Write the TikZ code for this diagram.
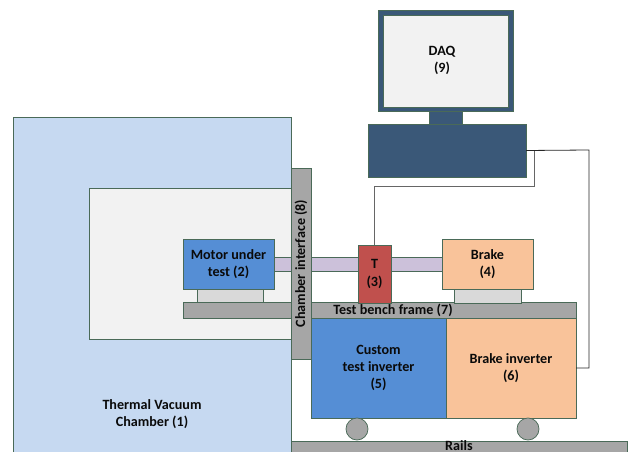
\documentclass[tikz,border=0pt]{standalone}
\usepackage{fontspec}
\setmainfont{Carlito}
\usetikzlibrary{fit}
\definecolor{edge}{HTML}{4A6A58}
\definecolor{chamberc}{HTML}{C6D9F1}
\definecolor{innerc}{HTML}{F2F2F2}
\definecolor{greyc}{HTML}{A6A6A6}
\definecolor{mountc}{HTML}{D9D9D9}
\definecolor{bluec}{HTML}{558ED5}
\definecolor{orangec}{HTML}{F9C39A}
\definecolor{redc}{HTML}{C0504D}
\definecolor{shaftc}{HTML}{CCC1DA}
\definecolor{daqc}{HTML}{3A5878}
\definecolor{txtc}{HTML}{0A0A0A}
\tikzset{
  blk/.style={draw=edge, line width=0.55pt, inner sep=0pt, outer sep=0pt, rectangle},
  lbl/.style={font=\bfseries\fontsize{10.6}{12.8}\selectfont, text=txtc, align=center},
  wire/.style={line width=0.6pt, draw=black!85}
}
\begin{document}
\begin{tikzpicture}[x=0.75pt, y=-0.75pt]
\useasboundingbox (0,0) rectangle (635,452);
\clip (0,0) rectangle (635,452);
% chamber
\node[blk, fill=chamberc, fit={(13,117) (291,470)}] (chamber) {};
\node[lbl] (chambertxt) at (152,414) {Thermal Vacuum\\Chamber (1)};
\node[blk, fill=innerc, fit={(89,188) (291,339)}] (inner) {};
% shaft
\node[blk, fill=shaftc, fit={(274,257) (442,271)}] (shaft) {};
% frame
\node[blk, fill=greyc, fit={(183,302) (576,318)}] (frame) {};
\node[lbl, anchor=center] (frametxt) at (393,310.5) {Test bench frame (7)};
% interface
\node[blk, fill=greyc, fit={(291,168) (311,359)}] (iface) {};
\node[lbl, rotate=90] (ifacetxt) at (iface.center) {Chamber interface (8)};
% motor
\node[blk, fill=mountc, fit={(197,289) (263,302)}] (mmount) {};
\node[blk, fill=bluec, fit={(183,239) (274,289)}] (motor) {};
\node[lbl] at (motor.center) {Motor under\\test (2)};
% torque
\node[blk, fill=redc, fit={(358,245) (391,303)}] (tq) {};
\node[lbl] at (tq.center) {T\\(3)};
% brake
\node[blk, fill=mountc, fit={(454,289) (521,303)}] (bmount) {};
\node[blk, fill=orangec, fit={(442,239) (533,289)}] (brake) {};
\node[lbl] at (brake.center) {Brake\\(4)};
% inverters
\node[blk, fill=bluec, fit={(311,318) (446,418)}] (cinv) {};
\node[lbl] at (cinv.center) {Custom\\test inverter\\(5)};
\node[blk, fill=orangec, fit={(446,318) (576,418)}] (binv) {};
\node[lbl] at (binv.center) {Brake inverter\\(6)};
% wheels
\node[draw=edge, line width=0.55pt, fill=greyc, circle, minimum size=16.5pt, inner sep=0pt] (w1) at (357,429) {};
\node[draw=edge, line width=0.55pt, fill=greyc, circle, minimum size=16.5pt, inner sep=0pt] (w2) at (528,429) {};
% rails
\node[blk, fill=greyc, fit={(291,441) (627,470)}] (rails) {};
\node[lbl, anchor=base, inner sep=0pt] (railstxt) at (459,450.5) {Rails};
% DAQ
\node[blk, fill=daqc, fit={(378,10) (513,111)}] (monitor) {};
\node[blk, fill=innerc, fit={(383,15) (508,107)}] (screen) {};
\node[lbl] at (442,60) {DAQ\\(9)};
\node[blk, fill=daqc, fit={(429,111) (462,124)}] (neck) {};
\node[blk, fill=daqc, fit={(368,124) (526,177)}] (daqbase) {};
% wires
\coordinate (j1) at (534,186);
\coordinate (j2) at (589,150);
\draw[wire, draw=black!60] (tq.north) |- (j1) |- (daqbase.east);
\draw[wire] (binv.east) -| (j2) -- (daqbase.east);
\end{tikzpicture}
\end{document}
